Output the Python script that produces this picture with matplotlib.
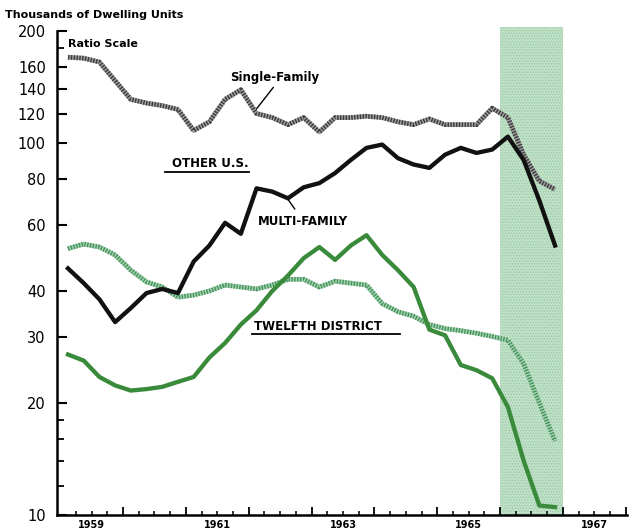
import matplotlib
matplotlib.use("Agg")
import matplotlib.pyplot as plt
from matplotlib.ticker import FixedLocator, NullFormatter, FixedFormatter
import numpy as np

# Quarterly observations, 1959 Q1 .. 1966 Q4
years = [1959, 1960, 1961, 1962, 1963, 1964, 1965, 1966]
quarters = [1, 2, 3, 4]

other_single = [170, 169, 165, 147, 131, 128, 126, 123,
                108, 114, 131, 139, 120, 117, 112, 117,
                107, 117, 117, 118, 117, 114, 112, 116,
                112, 112, 112, 124, 117, 93, 79, 75]
other_multi = [46, 42, 38, 33, 36, 39.5, 40.5, 39.5,
               48, 53, 61, 57, 75.5, 74, 71, 76,
               78, 83, 90, 97, 99, 91, 87.5, 85.7,
               93, 97, 94, 96, 104, 90, 70, 53]
twelfth_single = [52, 53.5, 52.5, 50, 45.5, 42.3, 41, 38.5,
                  39, 40, 41.5, 41, 40.5, 41.5, 43, 43,
                  41, 42.5, 42, 41.5, 37, 35.2, 34.2, 32.5,
                  31.7, 31.3, 30.8, 30.2, 29.5, 25.5, 20, 15.8]
twelfth_multi = [27, 26, 23.5, 22.3, 21.6, 21.8, 22.1, 22.8,
                 23.5, 26.5, 29, 32.5, 35.5, 40, 44, 49,
                 52.5, 48.5, 53, 56.5, 50, 45.5, 41, 31.5,
                 30.4, 25.3, 24.5, 23.3, 19.5, 14, 10.6, 10.5]

y_tick_values = [10, 20, 30, 40, 60, 80, 100, 120, 140, 160, 200]
y_minor_values = [12, 14, 16, 18, 180]
x_label_years = [1959, 1961, 1963, 1965, 1967]
shade_start, shade_end = 1966, 1967

t = np.array([y + (q - 0.5) / 4 for y in years for q in quarters])

plt.rcParams["hatch.linewidth"] = 0.6
fig = plt.figure(figsize=(6.31, 5.29), dpi=100)
ax = fig.add_axes([0.0903, 0.0265, 0.9034, 0.9225])
ax.set_yscale("log")
ax.set_xlim(1958.95, 1968.02)
ax.set_ylim(10, 205)

# shaded period
ax.axvspan(shade_start, shade_end, facecolor="#c0e0c7", edgecolor="#96cba2",
           hatch="......", linewidth=0, zorder=1)

def hatched(x, y, light, dark, lw=3.4):
    ax.plot(x, y, color=light, lw=lw, solid_capstyle="butt", zorder=3)
    ax.plot(x, y, color=dark, lw=lw, dashes=(0.3, 0.3), dash_capstyle="butt", zorder=3)

hatched(t, other_single, "#a0a0a0", "#3c3c3c")
ax.plot(t, other_multi, color="#111111", lw=3.1, zorder=4, solid_joinstyle="round")
hatched(t, twelfth_single, "#a8d3b2", "#44935c")
ax.plot(t, twelfth_multi, color="#3a8a3c", lw=3.1, zorder=4, solid_joinstyle="round")

# axes styling
for s in ["top", "right"]:
    ax.spines[s].set_visible(False)
ax.spines["left"].set_linewidth(1.8)
ax.spines["bottom"].set_linewidth(1.8)
ax.spines["left"].set_bounds(10, 200)

ax.yaxis.set_major_locator(FixedLocator(y_tick_values))
ax.yaxis.set_major_formatter(FixedFormatter([str(v) for v in y_tick_values]))
ax.yaxis.set_minor_locator(FixedLocator(y_minor_values))
ax.yaxis.set_minor_formatter(NullFormatter())
ax.tick_params(axis="y", which="major", direction="in", length=7, width=1.5,
               labelsize=10.5, pad=8)
ax.tick_params(axis="y", which="minor", direction="in", length=5, width=1.3)

year_bounds = list(range(1960, 1969))
ax.xaxis.set_major_locator(FixedLocator(year_bounds))
ax.xaxis.set_major_formatter(NullFormatter())
minor_q = [y + q / 4 for y in range(1959, 1968) for q in (1, 2, 3)]
ax.xaxis.set_minor_locator(FixedLocator(minor_q))
ax.tick_params(axis="x", which="major", direction="in", length=6, width=1.3)
ax.tick_params(axis="x", which="minor", direction="in", length=3, width=1.1)
for yr in x_label_years:
    ax.text(yr + 0.5, -0.01, str(yr), transform=ax.get_xaxis_transform(),
            ha="center", va="top", fontsize=7, fontweight="bold")

# annotations
fig.text(0.008, 0.972, "Thousands of Dwelling Units", fontsize=8, fontweight="bold",
         ha="left", va="center")
ax.text(1959.12, 184, "Ratio Scale", fontsize=8, fontweight="bold", ha="left", va="center")
ax.text(1961.7, 150, "Single-Family", fontsize=8.5, fontweight="bold", ha="left", va="center")
ax.annotate("", xy=(1962.1, 122), xytext=(1962.42, 143),
            arrowprops=dict(arrowstyle="-", lw=1.0, color="black"))
ax.text(1960.78, 88.3, "OTHER U.S.", fontsize=8.5, fontweight="bold", ha="left", va="center")
ax.plot([1960.67, 1962.01], [83.6, 83.6], color="black", lw=1.3)
ax.text(1962.15, 61.4, "MULTI-FAMILY", fontsize=8.5, fontweight="bold", ha="left", va="center")
ax.annotate("", xy=(1962.6, 71.5), xytext=(1962.76, 65.5),
            arrowprops=dict(arrowstyle="-", lw=1.0, color="black"))
ax.text(1962.08, 32.2, "TWELFTH DISTRICT", fontsize=8.5, fontweight="bold", ha="left", va="center")
ax.plot([1962.05, 1964.4], [30.7, 30.7], color="black", lw=1.3)

fig.savefig("out.png", dpi=100)
